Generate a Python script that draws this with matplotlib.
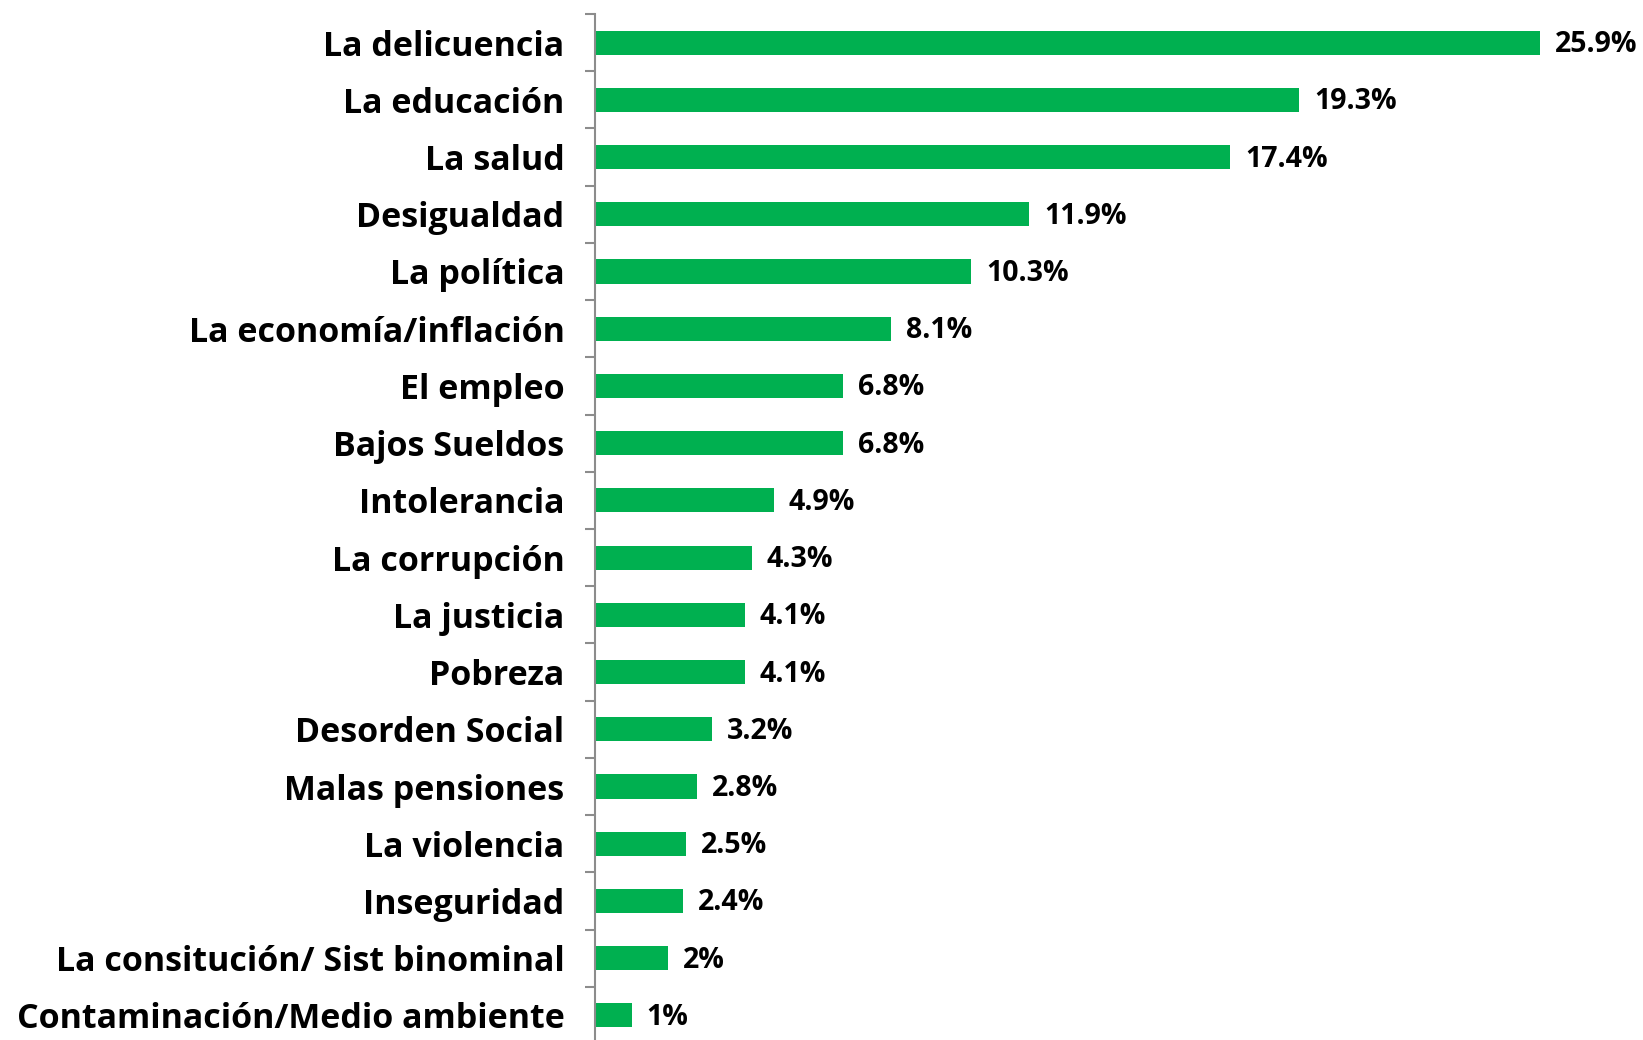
import matplotlib
matplotlib.use('Agg')
import matplotlib.pyplot as plt
import numpy as np

categories = ['La delicuencia', 'La educación', 'La salud', 'Desigualdad', 'La política',
              'La economía/inflación', 'El empleo', 'Bajos Sueldos', 'Intolerancia',
              'La corrupción', 'La justicia', 'Pobreza', 'Desorden Social',
              'Malas pensiones', 'La violencia', 'Inseguridad',
              'La consitución/ Sist binominal', 'Contaminación/Medio ambiente']
values = [25.9, 19.3, 17.4, 11.9, 10.3, 8.1, 6.8, 6.8, 4.9, 4.3, 4.1, 4.1, 3.2, 2.8, 2.5, 2.4, 2.0, 1.0]
value_labels = ['25.9%', '19.3%', '17.4%', '11.9%', '10.3%', '8.1%', '6.8%', '6.8%', '4.9%',
                '4.3%', '4.1%', '4.1%', '3.2%', '2.8%', '2.5%', '2.4%', '2%', '1%']

green = '#00B050'
W, H = 1643, 1040
fig = plt.figure(figsize=(W / 100, H / 100), dpi=100)
ax = fig.add_axes([595 / W, -4 / H, 1022 / W, 1030 / H])

n = len(categories)
y = np.arange(n)
ax.barh(y, values, height=0.42, color=green)
ax.set_ylim(n - 0.5, -0.5)
ax.set_xlim(0, 28)

for yi, v, lab in zip(y, values, value_labels):
    ax.annotate(lab, (v, yi), xytext=(15, -2), textcoords='offset pixels',
                va='center', ha='left', fontsize=20.5, fontweight='bold',
                family='Open Sans', color='black')

ax.set_yticks(y)
ax.set_yticklabels(categories, fontsize=24.5, fontweight='bold', family='Open Sans')
ax.tick_params(axis='y', which='major', length=0, pad=22)
ax.set_yticks(np.arange(-0.5, n, 1), minor=True)
ax.tick_params(axis='y', which='minor', length=7.5, width=1.5, color='#8c8c8c', direction='out')

ax.set_xticks([])
for s in ['top', 'right', 'bottom']:
    ax.spines[s].set_visible(False)
ax.spines['left'].set_color('#8c8c8c')
ax.spines['left'].set_linewidth(1.5)

fig.savefig('out.png', dpi=100)
